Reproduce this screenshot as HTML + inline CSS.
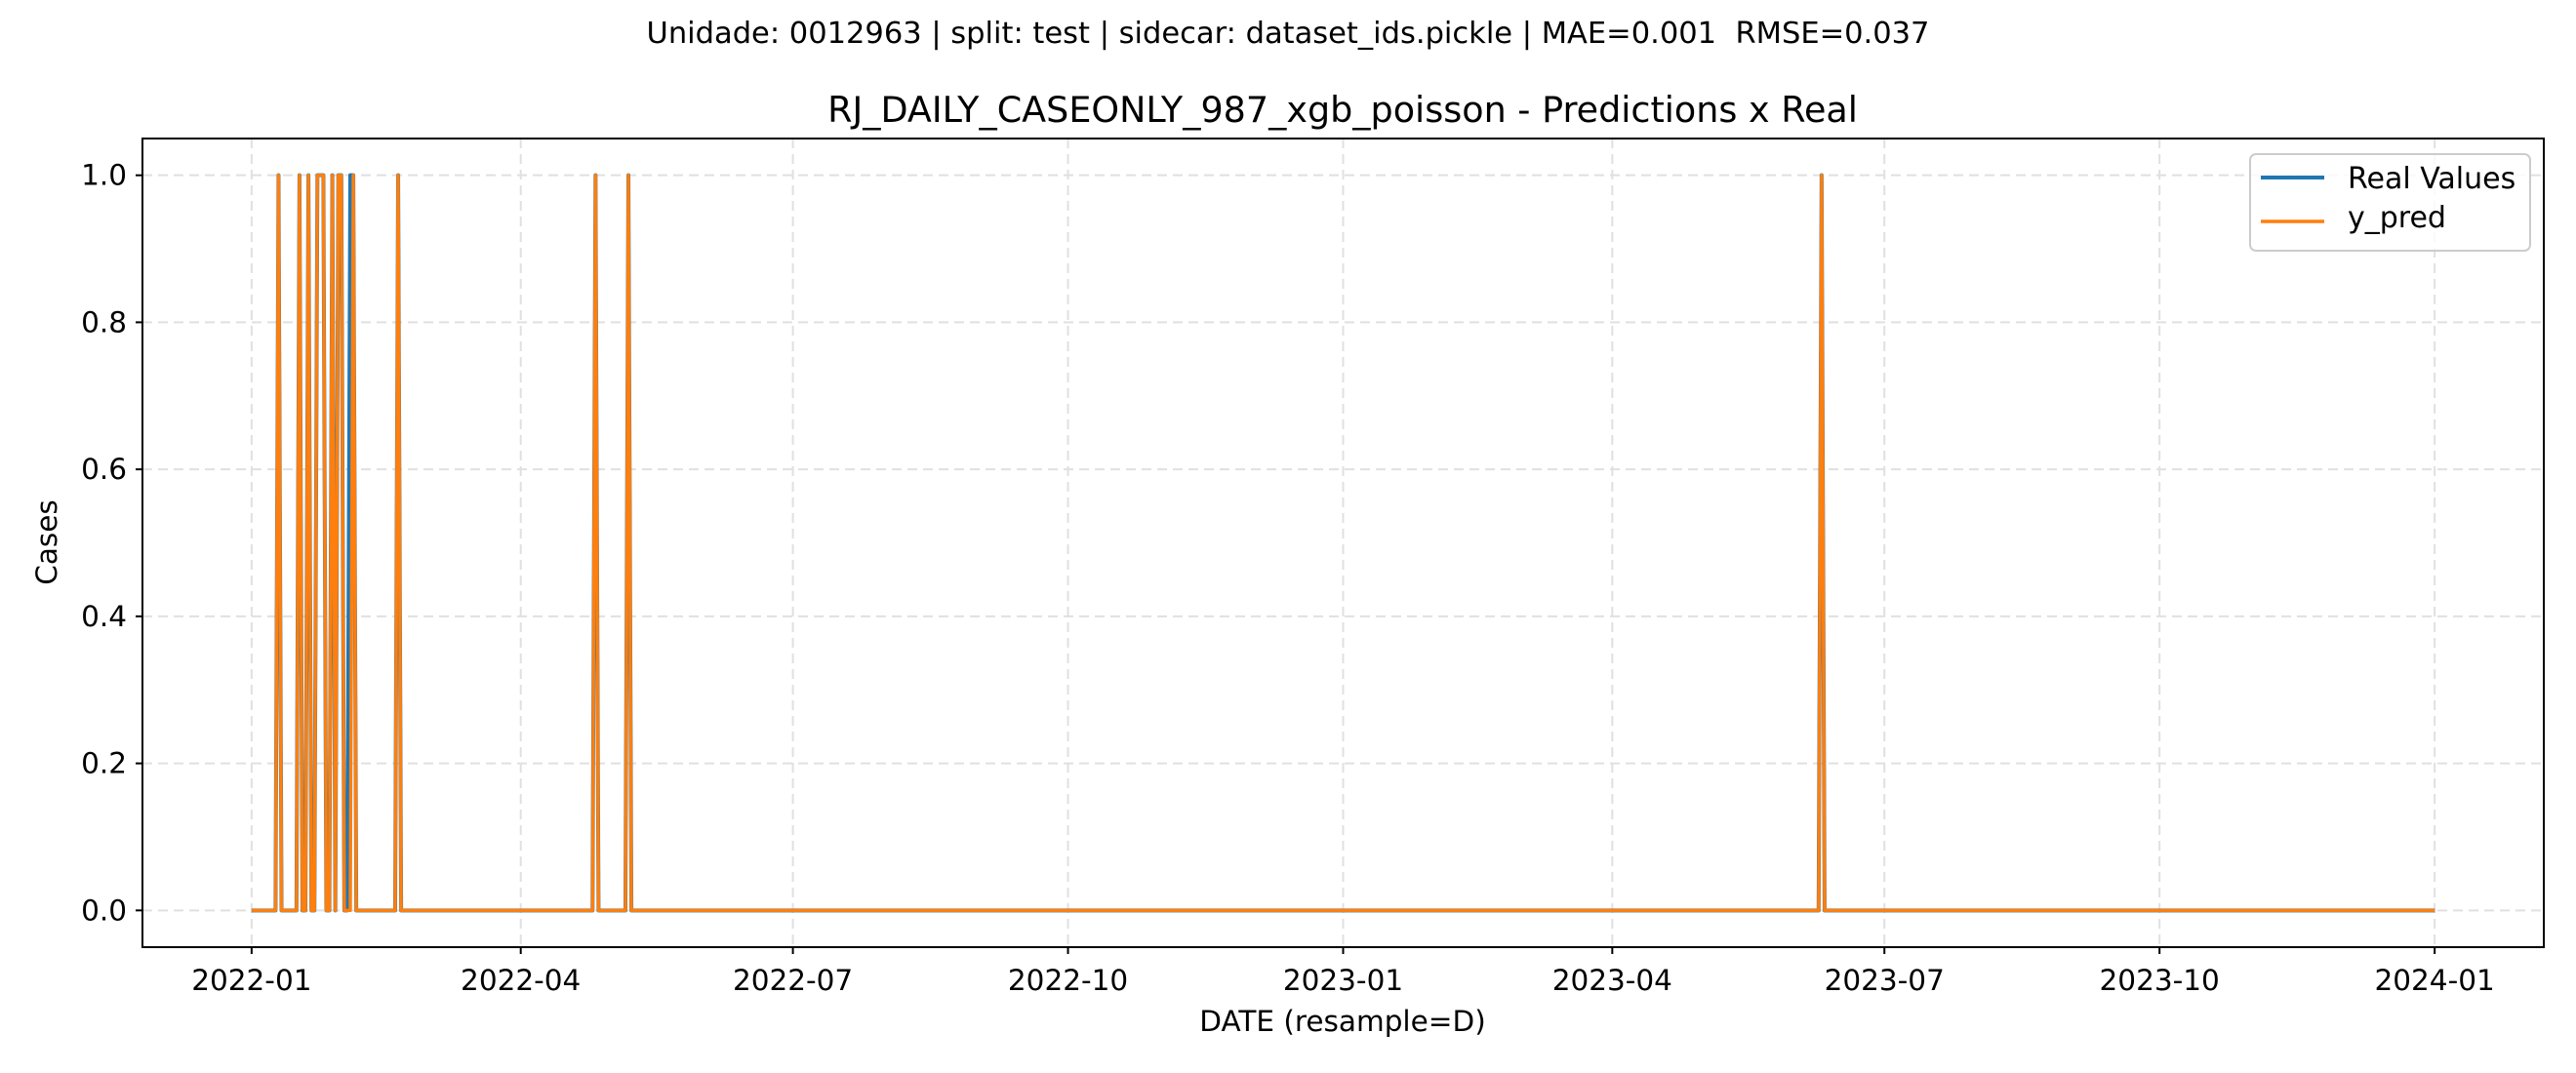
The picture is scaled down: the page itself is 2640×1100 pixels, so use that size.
<!DOCTYPE html>
<html><head><meta charset="utf-8">
<style>
html,body{margin:0;padding:0;background:#fff;}
svg{display:block;font-family:"DejaVu Sans","Liberation Sans",sans-serif;}
</style></head>
<body>
<svg id="chart" width="2640" height="1100" viewBox="0 0 2640 1100" xmlns="http://www.w3.org/2000/svg">
<rect x="0" y="0" width="2640" height="1100" fill="#fff"/>
<text x="1320" y="44" font-size="30.5" text-anchor="middle" fill="#000" xml:space="preserve" style="white-space:pre">Unidade: 0012963 | split: test | sidecar: dataset_ids.pickle | MAE=0.001  RMSE=0.037</text>
<text x="1376" y="125" font-size="36.5" text-anchor="middle" fill="#000">RJ_DAILY_CASEONLY_987_xgb_poisson - Predictions x Real</text>
<g id="grid"></g>
<g id="series"></g>
<rect x="146" y="142" width="2461" height="829" fill="none" stroke="#000" stroke-width="2"/>
<g id="ticks"></g>
<text x="1376" y="1057" font-size="29.5" text-anchor="middle" fill="#000">DATE (resample=D)</text>
<text x="0" y="0" font-size="29.5" text-anchor="middle" fill="#000" transform="translate(58,556) rotate(-90)">Cases</text>
<g>
<rect x="2306" y="158" width="287" height="99" rx="6" fill="#fff" fill-opacity="0.8" stroke="#ccc" stroke-width="2"/>
<line x1="2317" y1="182" x2="2382" y2="182" stroke="#1f77b4" stroke-width="4"/>
<text x="2406" y="193" font-size="30" fill="#000">Real Values</text>
<line x1="2317" y1="227" x2="2382" y2="227" stroke="#ff7f0e" stroke-width="3.4"/>
<text x="2406" y="233" font-size="30" fill="#000">y_pred</text>
</g>
</svg>
<script>
// data: day offsets from 2022-01-01 where value = 1 (all other days 0), 731 days total
const nDays = 731;
const realSpikeDays = [9, 16, 19, 22, 23, 24, 27, 29, 30, 33, 34, 49, 115, 126, 525];
const predSpikeDays = [9, 16, 19, 22, 23, 24, 27, 29, 30, 34, 49, 115, 126, 525];
const yTicks = [0.0, 0.2, 0.4, 0.6, 0.8, 1.0];
const xTickLabels = ["2022-01","2022-04","2022-07","2022-10","2023-01","2023-04","2023-07","2023-10","2024-01"];
const xTickDays = [0, 90, 181, 273, 365, 455, 546, 638, 730];

const L=146,R=2607,T=142,B=971;
const xmin=-36.5,xmax=766.5,ymin=-0.05,ymax=1.05;
function xs(d){return L+(d-xmin)/(xmax-xmin)*(R-L);}
function ys(v){return B-(v-ymin)/(ymax-ymin)*(B-T);}
const NS="http://www.w3.org/2000/svg";
const grid=document.getElementById('grid'),ticks=document.getElementById('ticks'),series=document.getElementById('series');
function mk(tag,attrs,parent){const e=document.createElementNS(NS,tag);for(const k in attrs)e.setAttribute(k,attrs[k]);parent.appendChild(e);return e;}

yTicks.forEach(v=>{
  const y=ys(v);
  const g=mk('line',{x1:L,x2:R,y1:y,y2:y,stroke:'#e0e0e0','stroke-width':2,'stroke-dasharray':'10,6'},grid);
  
  
  const t=mk('line',{x1:L-7,x2:L,y1:y,y2:y,stroke:'#000','stroke-width':2},ticks);
  
  
  const tx=mk('text',{x:L-16,y:y+10,'font-size':29.5,'text-anchor':'end',fill:'#000'},ticks);
  tx.textContent=v.toFixed(1);
  
  
});
xTickDays.forEach((d,i)=>{
  const x=xs(d);
  const g=mk('line',{x1:x,x2:x,y1:T,y2:B,stroke:'#e0e0e0','stroke-width':2,'stroke-dasharray':'10,6'},grid);
  
  
  const t=mk('line',{x1:x,x2:x,y1:B,y2:B+7,stroke:'#000','stroke-width':2},ticks);
  
  
  const tx=mk('text',{x:x,y:B+44,'font-size':29.5,'text-anchor':'middle',fill:'#000'},ticks);
  tx.textContent=xTickLabels[i];
  
  
});
function pathFor(spikes){
  const s=new Set(spikes);let p='';
  for(let d=0;d<nDays;d++){p+=(d?'L':'M')+xs(d).toFixed(2)+','+ys(s.has(d)?1:0).toFixed(2);}
  return p;
}
const real=mk('path',{d:pathFor(realSpikeDays),fill:'none',stroke:'#1f77b4','stroke-width':4,'stroke-linejoin':'round'},series);


const pred=mk('path',{d:pathFor(predSpikeDays),fill:'none',stroke:'#ff7f0e','stroke-width':3.4,'stroke-linejoin':'round'},series);


</script>
</body></html>
